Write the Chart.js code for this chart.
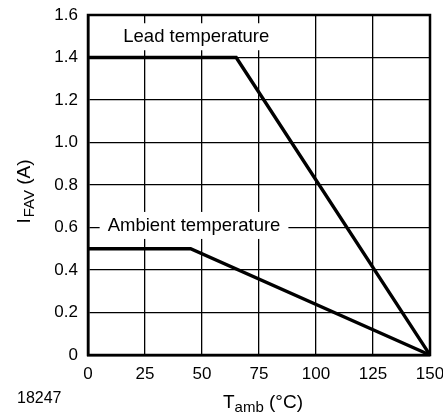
<!DOCTYPE html>
<html>
<head>
<meta charset="utf-8">
<script src="https://cdn.jsdelivr.net/npm/chart.js@4"></script>
<style>
  html, body { margin: 0; padding: 0; background: #fff; }
  #wrap { width: 443px; height: 414px; }
</style>
</head>
<body>
<div id="wrap"><canvas id="derating"></canvas></div>
<script>
// Forward current vs ambient temperature (derating curves)
const leadTemp = [0, 65, 150];
const leadCurrent = [1.4, 1.4, 0];
const ambTemp = [0, 45, 150];
const ambCurrent = [0.5, 0.5, 0];
const xTicks = [0, 25, 50, 75, 100, 125, 150];
const yTicks = [0, 0.2, 0.4, 0.6, 0.8, 1.0, 1.2, 1.4, 1.6];
const curveLabels = ['Lead temperature', 'Ambient temperature'];
const labelAt = [[47.5, 1.5], [46.5, 0.612]];

const FONT = '"Liberation Sans", Arial, Helvetica, sans-serif';

const toPoints = (xs, ys) => xs.map((x, i) => ({ x: x, y: ys[i] }));

// frame, curve labels and axis titles with subscripts
const extras = {
  id: 'extras',
  afterDatasetsDraw(chart) {
    const ctx = chart.ctx;
    const a = chart.chartArea;
    const sx = chart.scales.x, sy = chart.scales.y;
    ctx.save();
    ctx.strokeStyle = '#000';
    ctx.lineWidth = 2.5;
    ctx.strokeRect(a.left, a.top, a.right - a.left, a.bottom - a.top);

    ctx.font = '18.5px ' + FONT;
    ctx.textBaseline = 'middle';
    ctx.textAlign = 'center';
    curveLabels.forEach((t, i) => {
      const px = sx.getPixelForValue(labelAt[i][0]);
      const py = sy.getPixelForValue(labelAt[i][1]);
      const w = ctx.measureText(t).width;
      ctx.fillStyle = '#fff';
      ctx.fillRect(px - w / 2 - 8, py - 13, w + 16, 27);
      ctx.fillStyle = '#000';
      ctx.fillText(t, px, py + 1);
    });

    // x title: T_amb (°C)
    ctx.textAlign = 'left';
    ctx.textBaseline = 'alphabetic';
    const xb = a.bottom + 53;
    ctx.font = '19px ' + FONT;
    const wT = ctx.measureText('T').width;
    const wU = ctx.measureText(' (°C)').width;
    ctx.font = '15px ' + FONT;
    const wS = ctx.measureText('amb').width;
    let x0 = (a.left + a.right) / 2 + 4 - (wT + wS + wU) / 2;
    ctx.font = '19px ' + FONT;
    ctx.fillText('T', x0, xb);
    ctx.font = '15px ' + FONT;
    ctx.fillText('amb', x0 + wT, xb + 4);
    ctx.font = '19px ' + FONT;
    ctx.fillText(' (°C)', x0 + wT + wS, xb);

    // y title: I_FAV (A)
    ctx.translate(a.left - 58, (a.top + a.bottom) / 2 + 7);
    ctx.rotate(-Math.PI / 2);
    ctx.font = '19px ' + FONT;
    const wI = ctx.measureText('I').width;
    const wA = ctx.measureText(' (A)').width;
    ctx.font = '15px ' + FONT;
    const wF = ctx.measureText('FAV').width;
    let y0 = -(wI + wF + wA) / 2;
    ctx.font = '19px ' + FONT;
    ctx.fillText('I', y0, 0);
    ctx.font = '15px ' + FONT;
    ctx.fillText('FAV', y0 + wI + 1, 4);
    ctx.font = '19px ' + FONT;
    ctx.fillText(' (A)', y0 + wI + wF + 1, 0);
    ctx.restore();

    ctx.save();
    ctx.font = '16px ' + FONT;
    ctx.fillStyle = '#000';
    ctx.fillText('18247', 17, 403);
    ctx.restore();
  }
};

new Chart(document.getElementById('derating'), {
  type: 'line',
  data: {
    datasets: [
      { label: curveLabels[0], data: toPoints(leadTemp, leadCurrent) },
      { label: curveLabels[1], data: toPoints(ambTemp, ambCurrent) }
    ]
  },
  options: {
    responsive: true,
    maintainAspectRatio: false,
    animation: false,
    layout: { padding: { top: 15, right: 13, left: 0, bottom: 0 } },
    elements: {
      line: { borderColor: '#000', borderWidth: 3.4, tension: 0, borderCapStyle: 'round', borderJoinStyle: 'miter' },
      point: { radius: 0 }
    },
    plugins: { legend: { display: false }, tooltip: { enabled: false } },
    scales: {
      x: {
        type: 'linear', min: 0, max: 150,
        afterBuildTicks: s => { s.ticks = xTicks.map(v => ({ value: v })); },
        afterFit: s => { s.height = 59; s.paddingLeft = 0; s.paddingRight = 0; },
        grid: { color: '#000', lineWidth: 1.3, drawTicks: false },
        border: { color: '#000', width: 2.5 },
        ticks: { color: '#000', font: { family: FONT, size: 17 }, padding: 9, maxRotation: 0 }
      },
      y: {
        type: 'linear', min: 0, max: 1.6,
        afterBuildTicks: s => { s.ticks = yTicks.map(v => ({ value: v })); },
        afterFit: s => { s.width = 88; s.paddingTop = 0; s.paddingBottom = 0; },
        grid: { color: '#000', lineWidth: 1.3, drawTicks: false },
        border: { color: '#000', width: 2.5 },
        ticks: {
          color: '#000', font: { family: FONT, size: 17 }, padding: 10,
          callback: v => v === 0 ? '0' : v.toFixed(1)
        }
      }
    }
  },
  plugins: [extras]
});
</script>
</body>
</html>
